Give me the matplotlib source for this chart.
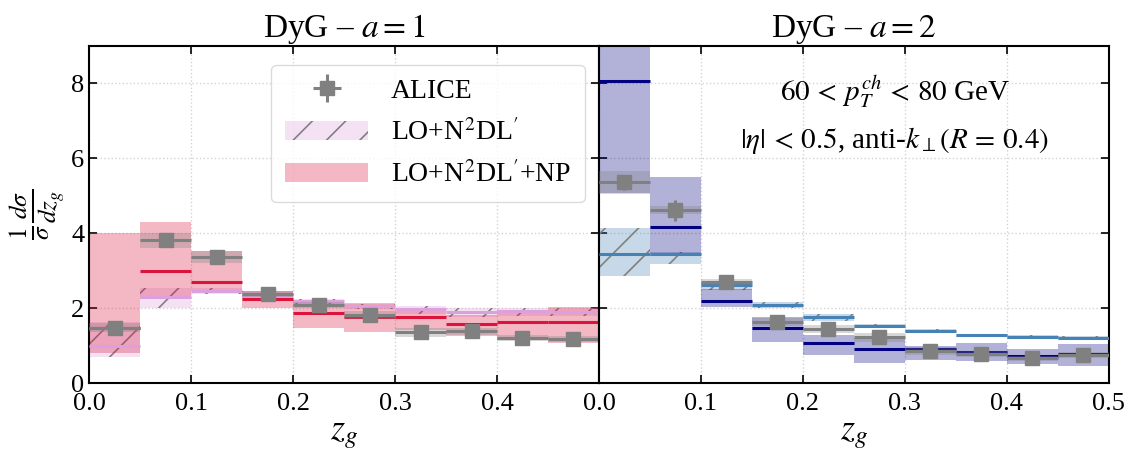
import numpy as np
import matplotlib
matplotlib.use('Agg')
import matplotlib.pyplot as plt
from matplotlib.patches import Patch

plt.rcParams['font.family'] = ['Liberation Serif', 'DejaVu Serif']
plt.rcParams['mathtext.fontset'] = 'stix'
plt.rcParams['hatch.color'] = 'gray'
plt.rcParams['hatch.linewidth'] = 1.2

# bins in z_g
edges = np.arange(0.0, 0.51, 0.05)

# DyG a = 1
alice_a1 = [1.49, 3.81, 3.36, 2.38, 2.09, 1.82, 1.36, 1.39, 1.22, 1.18]
alice_a1_sys = [0.13, 0.2, 0.16, 0.09, 0.08, 0.1, 0.12, 0.1, 0.08, 0.08]
alice_a1_stat = [0.1, 0.12, 0.1, 0.08, 0.07, 0.06, 0.06, 0.06, 0.05, 0.05]
lo_a1 = [1.01, 2.29, 2.47, 2.36, 2.2, 2.06, 1.98, 1.91, 1.92, 1.91]
lo_a1_lo = [0.71, 2.0, 2.39, 2.28, 2.1, 1.97, 1.84, 1.78, 1.8, 1.8]
lo_a1_hi = [1.64, 2.54, 2.55, 2.45, 2.25, 2.12, 2.05, 2.0, 2.0, 2.0]
np_a1 = [1.49, 3.0, 2.69, 2.25, 1.89, 1.76, 1.76, 1.58, 1.64, 1.64]
np_a1_lo = [0.8, 2.25, 2.5, 2.0, 1.49, 1.38, 1.42, 1.26, 1.17, 1.08]
np_a1_hi = [4.0, 4.29, 3.52, 2.47, 2.23, 2.13, 1.95, 1.82, 1.95, 2.04]

# DyG a = 2
alice_a2 = [5.36, 4.62, 2.69, 1.64, 1.45, 1.23, 0.86, 0.78, 0.67, 0.75]
alice_a2_sys = [0.3, 0.1, 0.09, 0.1, 0.1, 0.12, 0.1, 0.08, 0.07, 0.08]
alice_a2_stat = [0.2, 0.28, 0.1, 0.08, 0.07, 0.06, 0.05, 0.05, 0.05, 0.05]
lo_a2 = [3.46, 3.46, 2.62, 2.09, 1.78, 1.53, 1.39, 1.29, 1.24, 1.22]
lo_a2_lo = [2.87, 3.18, 2.5, 2.0, 1.66, 1.47, 1.34, 1.24, 1.19, 1.17]
lo_a2_hi = [4.13, 3.5, 2.7, 2.17, 1.84, 1.58, 1.44, 1.33, 1.28, 1.26]
np_a2 = [8.07, 4.18, 2.2, 1.49, 1.08, 0.92, 0.91, 0.83, 0.74, 0.78]
np_a2_lo = [5.07, 3.47, 2.04, 1.11, 0.76, 0.55, 0.62, 0.61, 0.51, 0.46]
np_a2_hi = [10.0, 5.51, 2.51, 1.78, 1.29, 1.2, 1.0, 1.08, 0.93, 1.06]


def draw_band(ax, lo, hi, centre, color, hatch=None):
    lo = np.array(lo)
    hi = np.array(hi)
    ax.bar(edges[:-1], hi - lo, bottom=lo, width=0.05, align='edge',
           color=color, alpha=0.3, hatch=hatch, linewidth=0, zorder=2)
    ax.hlines(centre, edges[:-1], edges[1:], colors=color, linewidth=2.2, zorder=3)


def draw_alice(ax, vals, sys, stat):
    vals = np.array(vals)
    sys = np.array(sys)
    ax.bar(edges[:-1], 2 * sys, bottom=vals - sys, width=0.05, align='edge',
           color='gray', alpha=0.3, linewidth=0, zorder=4)
    centres = 0.5 * (edges[:-1] + edges[1:])
    ax.errorbar(centres, vals, xerr=0.025, yerr=stat, fmt='s', color='gray',
                markersize=10, elinewidth=2.2, capsize=0, zorder=5)


fig, axes = plt.subplots(1, 2, figsize=(11.28, 4.57), sharey=True)
fig.subplots_adjust(left=0.079, right=0.983, top=0.9, bottom=0.161, wspace=0)

ax = axes[0]
draw_band(ax, lo_a1_lo, lo_a1_hi, lo_a1, 'plum', hatch='/')
draw_band(ax, np_a1_lo, np_a1_hi, np_a1, 'crimson')
draw_alice(ax, alice_a1, alice_a1_sys, alice_a1_stat)
ax.set_title(r'DyG – $a = 1$', fontsize=24, pad=6)

ax = axes[1]
draw_band(ax, lo_a2_lo, lo_a2_hi, lo_a2, 'steelblue', hatch='/')
draw_band(ax, np_a2_lo, np_a2_hi, np_a2, 'navy')
draw_alice(ax, alice_a2, alice_a2_sys, alice_a2_stat)
ax.set_title(r'DyG – $a = 2$', fontsize=24, pad=6)
ax.text(0.58, 0.865, r'$60\,<\,p_T^{ch}\,<\,80$ GeV', transform=ax.transAxes,
        ha='center', va='center', fontsize=21)
ax.text(0.58, 0.72, r'$|\eta|\,<\,0.5$, anti-$k_\perp(R\,=\,0.4)$', transform=ax.transAxes,
        ha='center', va='center', fontsize=21)

for ax in axes:
    ax.set_xlim(0, 0.5)
    ax.set_ylim(0, 9)
    ax.set_xticks([0.0, 0.1, 0.2, 0.3, 0.4, 0.5])
    ax.set_yticks([0, 2, 4, 6, 8])
    ax.tick_params(direction='in', top=True, right=True, labelsize=19, length=6, width=1.2)
    ax.tick_params(axis='x', pad=7)
    ax.grid(True, linestyle=':', color='lightgray', linewidth=1)
    ax.set_axisbelow(True)
    ax.set_xlabel(r'$z_g$', fontsize=26, labelpad=2)
    for s in ax.spines.values():
        s.set_linewidth(1.5)

axes[0].set_xticklabels(['0.0', '0.1', '0.2', '0.3', '0.4', ''])
axes[0].set_ylabel(r'$\frac{1}{\sigma}\frac{d\sigma}{dz_g}$', fontsize=26, labelpad=3)

# legend
h_alice = axes[0].errorbar([], [], xerr=[], yerr=[], fmt='s', color='gray',
                           markersize=10, elinewidth=2.2, capsize=0)
h_lo = Patch(facecolor='plum', alpha=0.3, hatch='/', linewidth=0)
h_np = Patch(facecolor='crimson', alpha=0.3, linewidth=0)
axes[0].legend([h_alice, h_lo, h_np],
               ['ALICE', r"LO+N$^2$DL$'$", r"LO+N$^2$DL$'$+NP"],
               loc='upper left', bbox_to_anchor=(0.33, 0.985), fontsize=20,
               frameon=True, fancybox=True, edgecolor='lightgray', handlelength=3,
               labelspacing=0.55, borderpad=0.5)

fig.savefig('out.png', dpi=100)
